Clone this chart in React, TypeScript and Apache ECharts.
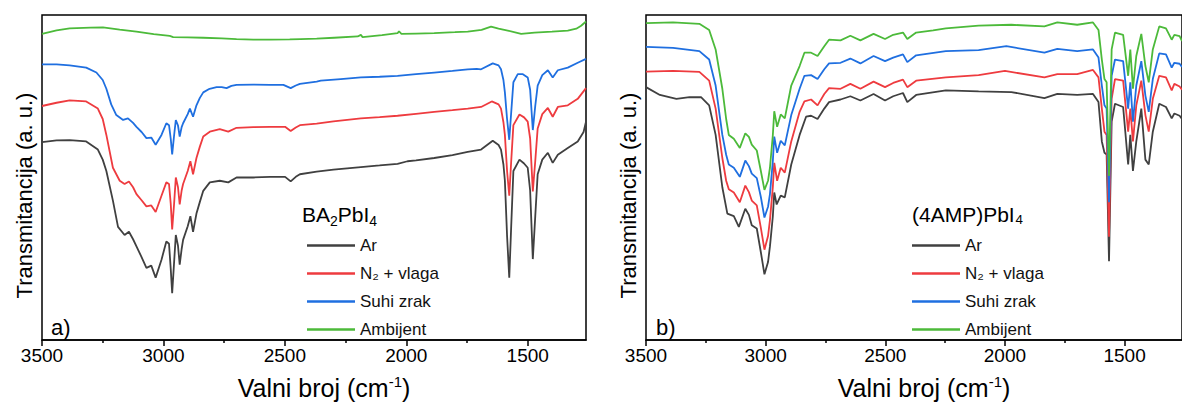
import React, { useEffect, useRef } from "react";
import * as echarts from "echarts";

// ---- data (wavenumber cm-1, transmittance a.u.) ----
const seriesNames = ["Ar", "N₂ + vlaga", "Suhi zrak", "Ambijent"];
const colors = ["#404040", "#ee3b3f", "#1f6fe0", "#4cba3a"];
const majorTicks = [3500, 3000, 2500, 2000, 1500];
const minorTicks = [3250, 2750, 2250, 1750];
const xMin = 1260;
const xMax = 3500;

const aAr: number[][] = [[3500,60.9],[3440,61.4],[3386,61.5],[3318,61.1],[3270,58.6],[3250,55.5],[3235,52.0],[3208,42.9],[3187,34.8],[3160,32.3],[3142,33.3],[3125,31.0],[3111,28.8],[3090,25.5],[3070,22.2],[3050,22.9],[3032,19.2],[3008,24.7],[2988,30.3],[2977,29.6],[2970,22.0],[2964,14.4],[2956,24.0],[2949,32.3],[2940,29.0],[2933,23.2],[2925,28.0],[2919,30.8],[2900,35.0],[2889,38.1],[2878,33.3],[2864,38.9],[2850,42.5],[2836,45.9],[2809,48.5],[2768,49.0],[2733,48.5],[2699,50.0],[2630,50.0],[2561,50.2],[2499,50.2],[2476,48.8],[2455,50.2],[2438,51.0],[2369,51.8],[2300,52.4],[2187,53.2],[2110,53.7],[2036,54.2],[1995,55.0],[1960,55.3],[1885,56.0],[1810,56.9],[1747,57.9],[1692,58.6],[1644,61.3],[1620,60.0],[1610,58.6],[1600,54.0],[1594,49.0],[1585,32.0],[1576,19.2],[1568,35.0],[1559,52.0],[1534,55.5],[1515,54.3],[1500,53.0],[1490,46.0],[1479,24.9],[1469,38.0],[1459,51.0],[1440,55.5],[1417,57.6],[1397,54.5],[1376,57.0],[1335,59.1],[1294,61.1],[1270,64.0],[1260,67.2]];
const aN2: number[][] = [[3500,72.0],[3440,73.0],[3386,73.7],[3318,73.4],[3270,71.2],[3250,68.0],[3235,63.1],[3208,53.0],[3180,49.0],[3160,48.0],[3142,48.8],[3125,47.0],[3111,44.9],[3090,43.0],[3070,41.1],[3050,41.4],[3032,39.4],[3008,44.4],[2988,48.5],[2977,48.0],[2970,42.0],[2964,34.0],[2956,42.0],[2949,50.0],[2940,47.0],[2933,41.7],[2925,46.0],[2919,48.0],[2900,52.0],[2889,55.0],[2878,51.0],[2864,56.0],[2850,59.5],[2836,62.6],[2809,64.1],[2768,64.9],[2733,64.1],[2699,65.3],[2630,65.5],[2561,65.6],[2499,65.6],[2476,64.3],[2455,65.4],[2438,66.1],[2369,66.6],[2300,67.3],[2187,68.2],[2110,68.6],[2036,69.0],[1960,69.6],[1885,70.2],[1810,70.7],[1747,71.2],[1692,71.7],[1648,73.4],[1620,72.5],[1610,71.2],[1600,67.0],[1594,63.1],[1585,52.0],[1576,44.4],[1568,55.0],[1559,66.1],[1534,69.4],[1515,68.5],[1500,67.2],[1490,62.0],[1479,45.7],[1469,55.0],[1459,65.1],[1440,69.5],[1417,71.4],[1397,68.7],[1376,71.7],[1335,72.2],[1294,74.2],[1260,77.5]];
const aSuhi: number[][] = [[3500,84.8],[3440,84.8],[3386,84.5],[3318,83.8],[3276,82.3],[3250,80.0],[3235,77.3],[3215,72.5],[3194,69.2],[3166,67.7],[3146,68.2],[3125,66.8],[3111,65.6],[3090,64.0],[3070,62.1],[3050,62.3],[3032,60.1],[3008,63.1],[2988,66.7],[2977,66.1],[2970,62.0],[2964,57.1],[2956,63.0],[2949,67.7],[2940,66.0],[2933,62.6],[2925,65.5],[2919,66.7],[2900,69.5],[2891,71.2],[2878,68.7],[2864,72.2],[2850,74.5],[2836,76.2],[2810,77.3],[2781,77.8],[2760,77.8],[2740,77.5],[2720,78.2],[2699,78.5],[2630,78.6],[2561,78.5],[2506,78.5],[2476,77.5],[2455,78.3],[2438,78.8],[2369,79.5],[2352,79.8],[2270,80.3],[2187,80.8],[2110,81.0],[2036,81.3],[1960,81.8],[1885,82.3],[1810,82.8],[1747,83.3],[1710,83.4],[1692,83.3],[1644,85.1],[1620,84.5],[1610,83.3],[1600,80.0],[1594,76.2],[1585,68.0],[1576,61.6],[1568,70.0],[1559,79.3],[1541,81.8],[1520,81.8],[1500,80.8],[1490,77.0],[1479,64.6],[1469,72.0],[1459,78.3],[1440,81.5],[1417,83.0],[1397,80.8],[1376,83.0],[1335,83.8],[1294,85.3],[1260,86.5]];
const aAmb: number[][] = [[3500,94.2],[3440,95.3],[3386,95.9],[3300,96.1],[3249,96.2],[3180,95.5],[3111,94.9],[3040,94.1],[2974,93.6],[2960,93.2],[2900,93.1],[2836,93.0],[2760,92.8],[2699,92.6],[2630,92.4],[2561,92.4],[2480,92.5],[2435,92.6],[2369,92.7],[2297,93.0],[2200,93.4],[2187,93.9],[2180,93.2],[2100,93.8],[2036,94.4],[2030,95.0],[2020,94.2],[1960,94.3],[1885,94.4],[1800,94.7],[1747,94.9],[1690,95.4],[1651,96.4],[1620,95.8],[1582,95.2],[1527,94.2],[1472,94.6],[1400,94.9],[1335,95.2],[1300,95.8],[1280,96.7],[1260,98.0]];

const bAr: number[][] = [[3500,77.8],[3442,75.4],[3373,74.2],[3318,74.7],[3270,74.7],[3236,72.2],[3209,63.1],[3181,47.0],[3160,38.9],[3133,38.1],[3112,34.8],[3085,40.4],[3070,38.5],[3058,35.3],[3037,34.3],[3020,27.0],[3005,20.2],[2990,24.0],[2982,28.8],[2970,38.0],[2964,45.4],[2954,41.7],[2937,44.4],[2920,43.9],[2893,54.0],[2858,63.1],[2831,68.7],[2810,69.0],[2783,68.0],[2755,71.2],[2735,73.2],[2687,74.0],[2646,75.0],[2604,73.7],[2549,75.7],[2501,73.7],[2467,75.0],[2426,76.0],[2408,73.2],[2371,75.4],[2247,76.8],[2110,76.5],[1973,76.3],[1835,74.4],[1781,75.7],[1698,75.4],[1632,75.7],[1609,73.2],[1595,61.1],[1584,57.6],[1575,57.1],[1565,24.2],[1554,67.2],[1540,72.7],[1506,71.7],[1485,54.0],[1476,63.1],[1465,52.0],[1451,61.1],[1430,71.2],[1413,55.5],[1399,54.0],[1382,64.1],[1355,72.7],[1327,71.7],[1303,68.2],[1292,69.7],[1270,69.0],[1260,68.0]];
const bN2: number[][] = [[3500,82.6],[3387,82.8],[3277,82.5],[3236,79.8],[3209,71.2],[3181,56.0],[3165,49.0],[3154,46.4],[3133,45.4],[3108,42.4],[3085,47.5],[3070,45.5],[3058,42.9],[3037,41.4],[3020,34.5],[3005,27.8],[2990,32.0],[2982,36.9],[2970,47.0],[2964,54.5],[2952,49.0],[2937,53.0],[2920,51.5],[2893,61.1],[2858,70.2],[2838,73.4],[2810,74.0],[2783,72.2],[2755,75.7],[2735,77.5],[2687,77.3],[2646,78.8],[2604,77.3],[2549,79.5],[2501,77.8],[2467,79.1],[2426,80.1],[2408,77.8],[2371,79.8],[2247,80.8],[2110,81.5],[2000,82.8],[1835,80.8],[1781,81.8],[1698,81.8],[1632,83.1],[1609,80.8],[1595,71.2],[1584,64.1],[1575,63.1],[1565,31.8],[1554,74.2],[1540,80.3],[1506,79.8],[1485,64.1],[1476,71.2],[1465,61.1],[1451,72.2],[1430,79.8],[1413,69.2],[1399,64.1],[1382,74.2],[1355,81.3],[1327,80.8],[1303,76.8],[1292,78.8],[1270,78.0],[1260,77.0]];
const bSuhi: number[][] = [[3500,90.2],[3387,89.9],[3277,88.9],[3236,86.3],[3209,78.3],[3181,63.1],[3165,57.0],[3154,54.0],[3133,53.0],[3108,50.2],[3085,55.2],[3070,53.5],[3058,51.2],[3037,49.8],[3020,44.0],[3005,37.7],[2990,41.0],[2982,44.9],[2970,55.0],[2964,62.6],[2952,57.6],[2937,61.3],[2920,59.9],[2893,69.2],[2858,77.3],[2838,81.3],[2810,81.5],[2783,80.3],[2755,83.3],[2735,85.1],[2687,85.3],[2646,86.6],[2604,85.1],[2549,87.4],[2501,85.8],[2467,86.9],[2426,87.9],[2408,85.5],[2371,87.6],[2247,88.9],[2110,89.2],[1994,90.4],[1835,88.4],[1781,89.6],[1698,88.9],[1632,89.4],[1609,86.9],[1595,78.3],[1584,72.2],[1575,71.2],[1565,42.4],[1554,81.3],[1540,86.3],[1506,85.8],[1485,71.2],[1476,79.3],[1465,67.2],[1451,78.3],[1430,85.8],[1413,75.2],[1399,70.2],[1382,80.3],[1355,88.2],[1327,87.9],[1303,83.8],[1292,85.3],[1270,85.0],[1260,84.0]];
const bAmb: number[][] = [[3500,97.5],[3387,97.7],[3277,97.3],[3236,95.4],[3209,89.4],[3181,77.3],[3165,68.0],[3154,63.1],[3133,61.9],[3108,59.1],[3085,63.6],[3070,62.5],[3058,60.1],[3037,58.3],[3020,52.0],[3005,46.2],[2990,49.0],[2982,53.0],[2970,63.0],[2964,70.4],[2952,65.6],[2937,69.4],[2920,68.2],[2893,78.3],[2858,84.3],[2838,88.4],[2810,88.4],[2783,87.4],[2755,90.4],[2735,92.4],[2687,92.2],[2646,93.6],[2604,92.2],[2549,94.2],[2501,92.6],[2467,93.9],[2426,94.6],[2408,92.6],[2371,94.6],[2300,95.3],[2247,95.9],[2110,96.7],[1973,97.0],[1835,96.5],[1781,97.7],[1698,97.0],[1632,97.7],[1609,95.4],[1595,86.3],[1584,80.3],[1575,79.3],[1565,50.5],[1554,89.4],[1540,94.6],[1506,93.9],[1485,81.3],[1476,89.4],[1465,77.3],[1451,87.4],[1430,94.2],[1413,84.3],[1399,79.3],[1382,89.4],[1355,96.5],[1327,95.9],[1303,92.4],[1292,93.9],[1270,93.5],[1260,92.0]];

const panelA = [aAr, aN2, aSuhi, aAmb];
const panelB = [bAr, bN2, bSuhi, bAmb];
const panelLabels = ["a)", "b)"];
const yTitle = "Transmitancija (a. u.)";

const FONT = "'Liberation Sans', Arial, sans-serif";

function xAxes(gridIndex: number) {
  return [
    {
      type: "value",
      gridIndex,
      min: xMin,
      max: xMax,
      inverse: true,
      axisLine: { show: true, lineStyle: { color: "#000", width: 1.5 } },
      axisTick: { show: true, length: 6, customValues: majorTicks, lineStyle: { color: "#000", width: 1.5 } },
      axisLabel: {
        customValues: majorTicks,
        fontSize: 19,
        color: "#000",
        margin: 6,
        fontFamily: FONT,
        formatter: (v: number) => String(v),
      },
      splitLine: { show: false },
      name: "{a|Valni broj (cm}{s|-1}{a|)}",
      nameLocation: "middle",
      nameGap: 33,
      nameTextStyle: {
        fontFamily: FONT,
        color: "#000",
        padding: [0, 0, 0, 20],
        rich: {
          a: { fontSize: 25, lineHeight: 30, fontFamily: FONT, color: "#000" },
          s: { fontSize: 15, lineHeight: 15, padding: [0, 0, 13, 0], fontFamily: FONT, color: "#000" },
        },
      },
    },
    {
      type: "value",
      gridIndex,
      min: xMin,
      max: xMax,
      inverse: true,
      position: "bottom",
      axisLine: { show: false },
      axisTick: { show: true, length: 3, customValues: minorTicks, lineStyle: { color: "#000", width: 1.5 } },
      axisLabel: { show: false },
      splitLine: { show: false },
    },
  ];
}

function yAxis(gridIndex: number) {
  return {
    type: "value",
    gridIndex,
    min: 0,
    max: 100,
    axisLine: { show: false },
    axisTick: { show: false },
    axisLabel: { show: false },
    splitLine: { show: false },
    name: yTitle,
    nameLocation: "middle",
    nameGap: 7,
    nameTextStyle: { fontSize: 22, color: "#000", fontFamily: FONT, padding: [0, 36, 0, 0] },
  };
}

export default function App() {
  const ref = useRef<HTMLDivElement>(null);
  useEffect(() => {
    if (!ref.current) return;
    const chart = echarts.init(ref.current, undefined, { renderer: "svg" });
    const series: any[] = [];
    [panelA, panelB].forEach((panel, p) => {
      panel.forEach((data, i) => {
        series.push({
          type: "line",
          name: seriesNames[i],
          xAxisIndex: p * 2,
          yAxisIndex: p,
          data,
          showSymbol: false,
          symbol: "none",
          lineStyle: { color: colors[i], width: 1.8 },
          itemStyle: { color: colors[i] },
          color: colors[i],
          z: 2 + i,
        });
      });
    });
    const legendBase = {
      orient: "vertical",
      top: 232,
      itemWidth: 48,
      itemHeight: 2.5,
      itemGap: 11,
      icon: "rect",
      selectedMode: false,
      data: seriesNames,
      textStyle: { fontSize: 17, color: "#111", fontFamily: FONT, lineHeight: 17 },
    };
    chart.setOption({
      animation: false,
      textStyle: { fontFamily: FONT },
      grid: [
        { left: 42, top: 15, width: 544, height: 330, show: true, borderColor: "#000", borderWidth: 1.5, containLabel: false },
        { left: 646, top: 15, width: 544, height: 330, show: true, borderColor: "#000", borderWidth: 1.5, containLabel: false },
      ],
      xAxis: [...xAxes(0), ...xAxes(1)],
      yAxis: [yAxis(0), yAxis(1)],
      legend: [
        { ...legendBase, left: 302 },
        { ...legendBase, left: 907 },
      ],
      graphic: [
        {
          type: "text",
          x: 302,
          y: 214,
          style: {
            text: "{a|BA}{s|2}{a|PbI}{s|4}",
            verticalAlign: "middle",
            fill: "#000",
            fontFamily: FONT,
            rich: {
              a: { fontSize: 21, lineHeight: 28, fontFamily: FONT, fill: "#000" },
              s: { fontSize: 14, lineHeight: 14, padding: [14, 0, 0, 0], fontFamily: FONT, fill: "#000" },
            },
          },
        },
        {
          type: "text",
          x: 912,
          y: 214,
          style: { text: "(4AMP)PbI₄", verticalAlign: "middle", fill: "#000", fontSize: 21, fontFamily: FONT },
        },
        {
          type: "text",
          x: 51,
          y: 327,
          style: { text: panelLabels[0], verticalAlign: "middle", fill: "#000", fontSize: 22, fontFamily: FONT },
        },
        {
          type: "text",
          x: 656,
          y: 327,
          style: { text: panelLabels[1], verticalAlign: "middle", fill: "#000", fontSize: 22, fontFamily: FONT },
        },
      ],
      series,
    });
    return () => chart.dispose();
  }, []);
  return (
    <div
      ref={ref}
      style={{ position: "fixed", left: 0, top: 0, width: 1182, height: 407, background: "#fff", overflow: "hidden" }}
    />
  );
}
